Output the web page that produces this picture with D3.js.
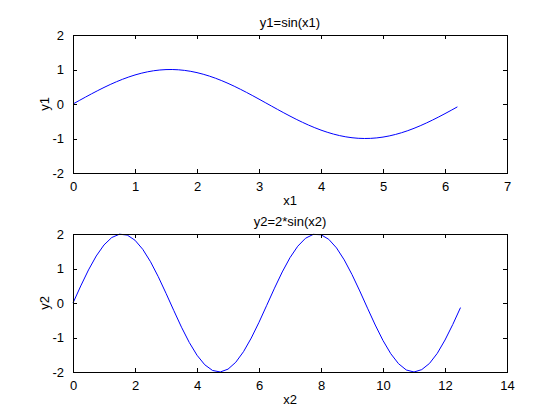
<!DOCTYPE html>
<html>
<head>
<meta charset="utf-8">
<script src="https://cdn.jsdelivr.net/npm/d3@7"></script>
<style>
  body { margin: 0; background: #fff; }
  text { font-family: "Liberation Sans", Arial, Helvetica, sans-serif; font-size: 13px; fill: #000; }
</style>
</head>
<body>
<div class="visualization"></div>
<script>
// data
const x1 = [0,0.1,0.2,0.3,0.4,0.5,0.6,0.7,0.8,0.9,1.0,1.1,1.2,1.3,1.4,1.5,1.6,1.7,1.8,1.9,
  2.0,2.1,2.2,2.3,2.4,2.5,2.6,2.7,2.8,2.9,3.0,3.1,3.2,3.3,3.4,3.5,3.6,3.7,3.8,3.9,
  4.0,4.1,4.2,4.3,4.4,4.5,4.6,4.7,4.8,4.9,5.0,5.1,5.2,5.3,5.4,5.5,5.6,5.7,5.8,5.9,
  6.0,6.1,6.2];
const y1 = [0,0.0998,0.1987,0.2955,0.3894,0.4794,0.5646,0.6442,0.7174,0.7833,0.8415,0.8912,0.9320,0.9636,0.9854,0.9975,0.9996,0.9917,0.9738,0.9463,
  0.9093,0.8632,0.8085,0.7457,0.6755,0.5985,0.5155,0.4274,0.3350,0.2392,0.1411,0.0416,-0.0584,-0.1577,-0.2555,-0.3508,-0.4425,-0.5298,-0.6119,-0.6878,
  -0.7568,-0.8183,-0.8716,-0.9162,-0.9516,-0.9775,-0.9937,-0.9999,-0.9962,-0.9825,-0.9589,-0.9258,-0.8835,-0.8323,-0.7728,-0.7055,-0.6313,-0.5507,-0.4646,-0.3739,
  -0.2794,-0.1822,-0.0831];
const x2 = [0,0.25,0.5,0.75,1.0,1.25,1.5,1.75,2.0,2.25,2.5,2.75,3.0,3.25,3.5,3.75,4.0,4.25,4.5,4.75,
  5.0,5.25,5.5,5.75,6.0,6.25,6.5,6.75,7.0,7.25,7.5,7.75,8.0,8.25,8.5,8.75,9.0,9.25,9.5,9.75,
  10.0,10.25,10.5,10.75,11.0,11.25,11.5,11.75,12.0,12.25,12.5];
const y2 = [0,0.495,0.959,1.363,1.683,1.898,1.995,1.968,1.819,1.556,1.197,0.763,0.282,-0.216,-0.702,-1.143,-1.514,-1.790,-1.955,-1.999,
  -1.918,-1.718,-1.411,-1.016,-0.559,-0.066,0.430,0.900,1.314,1.646,1.876,1.989,1.979,1.846,1.597,1.249,0.824,0.349,-0.150,-0.639,
  -1.088,-1.469,-1.759,-1.941,-2.000,-1.931,-1.751,-1.460,-1.073,-0.624,-0.133];

const xTicks1 = [0,1,2,3,4,5,6,7];
const xTicks2 = [0,2,4,6,8,10,12,14];
const yTicks = [-2,-1,0,1,2];

const width = 560;
const height = 420;

const svg = d3.select(".visualization")
    .append("svg")
    .attr("width", width)
    .attr("height", height);

const panels = [
  {title: "y1=sin(x1)", xlab: "x1", ylab: "y1", xs: x1, ys: y1, xdom: [0,7], xticks: xTicks1, top: 35, bottom: 173},
  {title: "y2=2*sin(x2)", xlab: "x2", ylab: "y2", xs: x2, ys: y2, xdom: [0,14], xticks: xTicks2, top: 234, bottom: 372}
];

const left = 73, right = 507, tickLen = 4;
// matlab style labels: plain hyphen for negatives
const fmt = d => String(d);

panels.forEach(p => {
  const x = d3.scaleLinear().domain(p.xdom).range([left, right]);
  const y = d3.scaleLinear().domain([-2, 2]).range([p.bottom, p.top]);
  const g = svg.append("g");

  // line first, then box over it
  const pts = p.xs.map((v, i) => [v, p.ys[i]]);
  g.append("path")
      .datum(pts)
      .attr("fill", "none")
      .attr("stroke", "#0000ff")
      .attr("stroke-width", 1)
      .attr("d", d3.line().x(d => x(d[0])).y(d => y(d[1])));

  // axes with inward ticks on all four sides
  const ax = (axis, tr) => g.append("g").attr("transform", tr).call(axis)
      .call(s => s.select(".domain").remove())
      .call(s => s.selectAll("line").attr("shape-rendering", "crispEdges"))
      .call(s => s.selectAll("text").style("font-size", "13px").style("font-family", null));

  ax(d3.axisBottom(x).tickValues(p.xticks).tickSizeInner(-tickLen).tickPadding(9).tickFormat(fmt),
     `translate(0,${p.bottom})`);
  ax(d3.axisTop(x).tickValues(p.xticks).tickSizeInner(-tickLen).tickFormat(""),
     `translate(0,${p.top})`);
  ax(d3.axisLeft(y).tickValues(yTicks).tickSizeInner(-tickLen).tickPadding(9).tickFormat(fmt),
     `translate(${left},0)`);
  ax(d3.axisRight(y).tickValues(yTicks).tickSizeInner(-tickLen).tickFormat(""),
     `translate(${right},0)`);

  g.append("rect")
      .attr("x", left).attr("y", p.top)
      .attr("width", right - left).attr("height", p.bottom - p.top)
      .attr("fill", "none").attr("stroke", "#000")
      .attr("shape-rendering", "crispEdges");

  g.append("text")
      .attr("x", (left + right) / 2).attr("y", p.top - 8)
      .attr("text-anchor", "middle")
      .text(p.title);
  g.append("text")
      .attr("x", (left + right) / 2).attr("y", p.bottom + 32)
      .attr("text-anchor", "middle")
      .text(p.xlab);
  g.append("text")
      .attr("transform", `translate(49,${(p.top + p.bottom) / 2}) rotate(-90)`)
      .attr("text-anchor", "middle")
      .text(p.ylab);
});
</script>
</body>
</html>
